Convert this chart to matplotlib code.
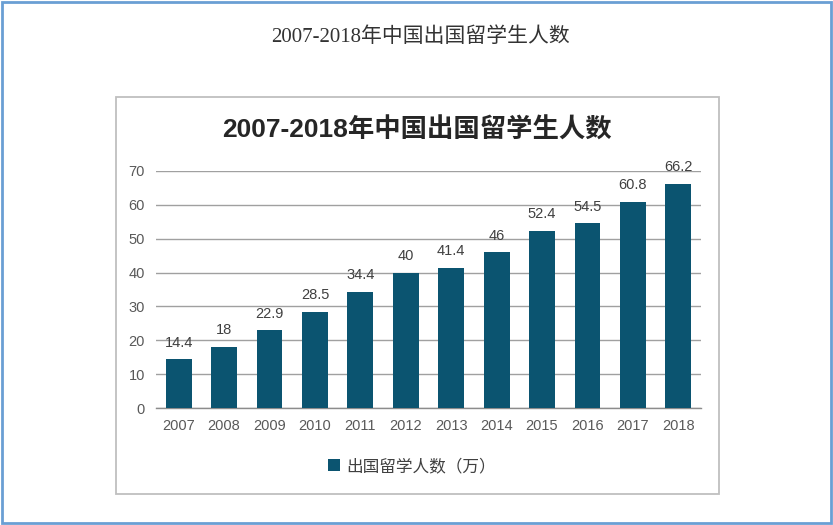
import matplotlib
matplotlib.use("Agg")
import matplotlib.pyplot as plt
from matplotlib.patches import Rectangle

plt.rcParams['font.family'] = ['Liberation Sans', 'Noto Sans CJK SC', 'DejaVu Sans']

years = ['2007', '2008', '2009', '2010', '2011', '2012', '2013', '2014', '2015', '2016', '2017', '2018']
values = [14.4, 18, 22.9, 28.5, 34.4, 40, 41.4, 46, 52.4, 54.5, 60.8, 66.2]
value_labels = ['14.4', '18', '22.9', '28.5', '34.4', '40', '41.4', '46', '52.4', '54.5', '60.8', '66.2']
yticks = [0, 10, 20, 30, 40, 50, 60, 70]
page_title = '2007-2018年中国出国留学生人数'
chart_title = '2007-2018年中国出国留学生人数'
series_name = '出国留学人数（万）'

bar_color = '#0b5470'
grid_color = '#a0a0a0'
text_color = '#595959'

fig = plt.figure(figsize=(8.33, 5.25), dpi=100)
fig.patch.set_facecolor('white')

# outer blue frame
fig.patches.append(Rectangle((0.002, 0.003), 0.996, 0.994, transform=fig.transFigure,
                             fill=False, edgecolor='#6a9fd4', linewidth=2.0, zorder=0))
# inner chart frame
fig.patches.append(Rectangle((116/833, 1-494/525), (719-116)/833, (494-97)/525,
                             transform=fig.transFigure, fill=False,
                             edgecolor='#bfbfbf', linewidth=1.3, zorder=0))

fig.text(420/833, 1-37/525, page_title, ha='center', va='center', fontsize=15,
         color='#333333', family=['Liberation Serif', 'Noto Sans CJK SC', 'DejaVu Serif'])
fig.text(417/833, 1-130/525, chart_title, ha='center', va='center', fontsize=19,
         fontweight='bold', color='#262626', family=['Liberation Sans', 'Noto Sans CJK SC'])

ax = fig.add_axes([156/833, 1-408/525, 545/833, (408-171)/525])
x = list(range(len(years)))
bars = ax.bar(x, values, width=0.57, color=bar_color, zorder=3, label=series_name)
ax.set_xlim(-0.5, len(years)-0.5)
ax.set_ylim(0, 70)
ax.set_yticks(yticks)
ax.set_xticks(x)
ax.set_xticklabels(years)
ax.yaxis.grid(True, color=grid_color, linewidth=1.0, zorder=0)
ax.set_axisbelow(True)
for s in ['top', 'right', 'left']:
    ax.spines[s].set_visible(False)
ax.spines['bottom'].set_color('#8c8c8c')
ax.spines['bottom'].set_linewidth(1.0)
ax.tick_params(axis='both', length=0, labelsize=10.5, colors=text_color)
ax.tick_params(axis='x', pad=8)
ax.tick_params(axis='y', pad=8)

for xi, v, lab in zip(x, values, value_labels):
    ax.annotate(lab, (xi, v), xytext=(0, 7), textcoords='offset points',
                ha='center', va='bottom', fontsize=10.5, color='#404040')

fig.legend(handles=[bars], labels=[series_name], loc='center', bbox_to_anchor=(412/833, 1-466/525),
           frameon=False, fontsize=12, handlelength=0.7, handleheight=0.7, handletextpad=0.4,
           labelcolor='#404040')

fig.savefig('out.png', dpi=100, facecolor='white')
